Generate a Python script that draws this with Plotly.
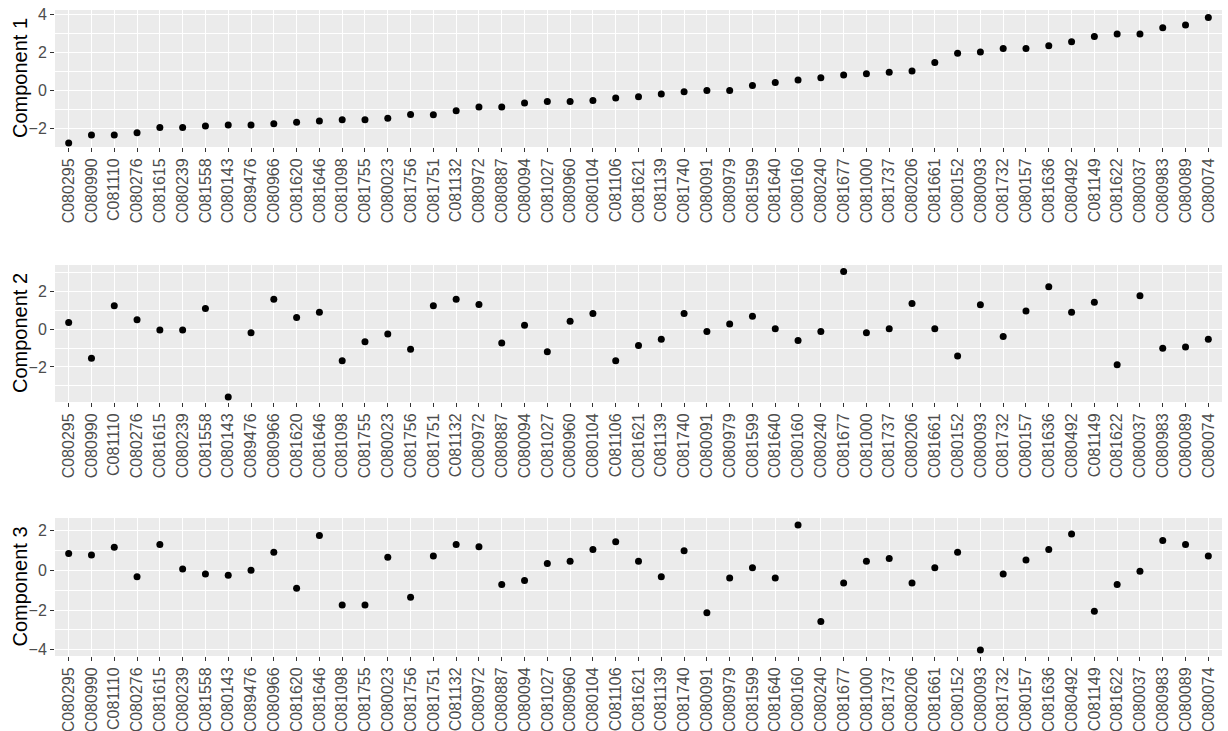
import plotly.graph_objects as go

categories = ["C080295", "C080990", "C081110", "C080276", "C081615", "C080239", "C081558", "C080143",
              "C089476", "C080966", "C081620", "C081646", "C081098", "C081755", "C080023", "C081756",
              "C081751", "C081132", "C080972", "C080887", "C080094", "C081027", "C080960", "C080104",
              "C081106", "C081621", "C081139", "C081740", "C080091", "C080979", "C081599", "C081640",
              "C080160", "C080240", "C081677", "C081000", "C081737", "C080206", "C081661", "C080152",
              "C080093", "C081732", "C080157", "C081636", "C080492", "C081149", "C081622", "C080037",
              "C080983", "C080089", "C080074"]

component1 = [-2.77, -2.35, -2.35, -2.23, -1.96, -1.96, -1.88, -1.82, -1.82, -1.75, -1.68, -1.61,
              -1.54, -1.54, -1.47, -1.27, -1.28, -1.07, -0.87, -0.87, -0.66, -0.59, -0.59, -0.53,
              -0.40, -0.33, -0.19, -0.07, 0.00, 0.00, 0.26, 0.41, 0.55, 0.67, 0.81, 0.88, 0.95,
              1.02, 1.47, 1.95, 2.02, 2.21, 2.21, 2.35, 2.56, 2.83, 2.97, 2.97, 3.30, 3.44, 3.84]

component2 = [0.35, -1.54, 1.24, 0.50, -0.05, -0.05, 1.10, -3.59, -0.19, 1.58, 0.62, 0.90,
              -1.68, -0.67, -0.25, -1.06, 1.24, 1.58, 1.31, -0.73, 0.21, -1.20, 0.42, 0.83,
              -1.68, -0.87, -0.53, 0.83, -0.12, 0.28, 0.69, 0.02, -0.60, -0.12, 3.06, -0.19,
              0.02, 1.36, 0.02, -1.42, 1.29, -0.39, 0.96, 2.25, 0.89, 1.43, -1.89, 1.77,
              -1.01, -0.94, -0.53]

component3 = [0.84, 0.77, 1.16, -0.32, 1.30, 0.07, -0.19, -0.25, 0.00, 0.91, -0.90, 1.75,
              -1.74, -1.74, 0.66, -1.35, 0.72, 1.30, 1.18, -0.71, -0.51, 0.34, 0.46, 1.04,
              1.43, 0.46, -0.32, 0.98, -2.13, -0.39, 0.13, -0.39, 2.28, -2.58, -0.64, 0.46,
              0.59, -0.64, 0.13, 0.91, -4.01, -0.19, 0.52, 1.04, 1.82, -2.06, -0.71, -0.05,
              1.50, 1.30, 0.72]

titles = ["Component 1", "Component 2", "Component 3"]
series = [component1, component2, component3]
y_ranges = [[-2.98, 4.23], [-3.86, 3.40], [-4.31, 2.63]]
y_domains = [[1 - 147 / 731, 1 - 10 / 731], [1 - 402 / 731, 1 - 265 / 731], [1 - 656 / 731, 1 - 518 / 731]]
x_domain = [55 / 1228, 1222 / 1228]

FONT = "Liberation Sans, Arial, sans-serif"
fig = go.Figure()

for i, (vals, title) in enumerate(zip(series, titles)):
    n = i + 1
    xa = "x" if n == 1 else f"x{n}"
    ya = "y" if n == 1 else f"y{n}"
    fig.add_trace(go.Scatter(
        x=categories, y=vals, mode="markers", xaxis=xa, yaxis=ya,
        marker=dict(color="black", size=7, line=dict(width=0)),
        showlegend=False, hoverinfo="x+y"))
    xkey = "xaxis" if n == 1 else f"xaxis{n}"
    ykey = "yaxis" if n == 1 else f"yaxis{n}"
    fig.update_layout({
        xkey: dict(
            domain=x_domain, anchor=ya, type="category",
            categoryorder="array", categoryarray=categories,
            range=[-0.6, len(categories) - 0.4],
            showgrid=True, gridcolor="white", gridwidth=1.3,
            zeroline=False, showline=False,
            ticks="outside", ticklen=4, tickwidth=1, tickcolor="#333333",
            tickangle=-90, tickfont=dict(family=FONT, size=16, color="#4D4D4D"),
            automargin=False, fixedrange=True),
        ykey: dict(
            domain=y_domains[i], anchor=xa, range=y_ranges[i],
            dtick=2, tick0=0,
            showgrid=True, gridcolor="white", gridwidth=1.3,
            minor=dict(dtick=1, tick0=0, showgrid=True, gridcolor="white", gridwidth=0.6, ticks=""),
            zeroline=False, showline=False,
            ticks="outside", ticklen=4, tickwidth=1, tickcolor="#333333",
            tickfont=dict(family=FONT, size=16, color="#4D4D4D"),
            automargin=False, fixedrange=True),
    })
    fig.add_annotation(
        text=title, xref="paper", yref="paper",
        x=19.5 / 1228, y=(y_domains[i][0] + y_domains[i][1]) / 2,
        xanchor="center", yanchor="middle", textangle=-90, showarrow=False,
        font=dict(family=FONT, size=20, color="black"))

fig.update_layout(
    width=1228, height=731,
    margin=dict(l=0, r=0, t=0, b=0),
    paper_bgcolor="white", plot_bgcolor="#EBEBEB",
    template="none",
    font=dict(family=FONT),
)

fig.write_html(
    "out.html",
    config={"displayModeBar": False},
    post_script="document.body.style.margin='0';document.body.style.overflow='hidden';",
)
